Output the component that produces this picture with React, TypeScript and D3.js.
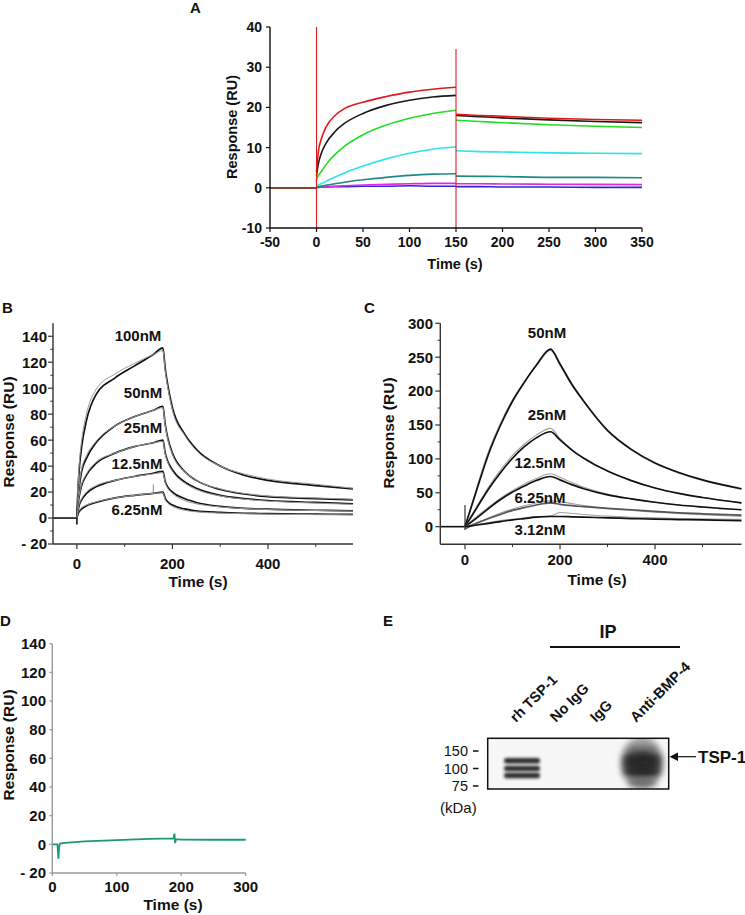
import React from "react";
import * as d3 from "d3";

const FONT = "'Liberation Sans', Arial, Helvetica, sans-serif";

// ---------------- Panel A data ----------------
const A_X_TICKS = [-50, 0, 50, 100, 150, 200, 250, 300, 350];
const A_Y_TICKS = [-10, 0, 10, 20, 30, 40];
const A_BASE_T = [-50, -25, 0];
const A_ASSOC_T = [0, 2, 5, 10, 20, 30, 50, 75, 100, 125, 150];
const A_DISS_T = [150, 175, 200, 250, 300, 350];
const A_NAMES = ["blue", "magenta", "teal", "cyan", "green", "black", "red"];
const A_COLORS = ["#2a2ad0", "#e02ae0", "#1f8a84", "#2ee3ea", "#22dd22", "#1a1a1a", "#e01a1a"];
const A_ASSOC_BLUE = [0.1, 0.1, 0.2, 0.2, 0.3, 0.3, 0.4, 0.4, 0.5, 0.4, 0.4];
const A_ASSOC_MAGENTA = [0.2, 0.2, 0.3, 0.3, 0.4, 0.5, 0.7, 0.85, 1.0, 1.1, 1.1];
const A_ASSOC_TEAL = [0.3, 0.3, 0.4, 0.6, 1.0, 1.4, 2.0, 2.6, 3.1, 3.4, 3.5];
const A_ASSOC_CYAN = [0.5, 0.7, 1.0, 1.6, 2.7, 3.7, 5.4, 7.2, 8.6, 9.6, 10.2];
const A_ASSOC_GREEN = [2.0, 3.0, 4.0, 5.7, 8.3, 10.3, 13.2, 15.6, 17.3, 18.5, 19.3];
const A_ASSOC_BLACK = [3.0, 6.0, 8.5, 11.0, 14.0, 16.0, 18.5, 20.5, 21.8, 22.6, 23.0];
const A_ASSOC_RED = [4.0, 9.0, 12.0, 15.0, 18.0, 19.7, 21.3, 22.7, 23.8, 24.5, 25.0];
const A_DISS_BLUE = [0.3, 0.3, 0.2, 0.2, 0.1, 0.1];
const A_DISS_MAGENTA = [1.0, 1.0, 0.95, 0.9, 0.85, 0.8];
const A_DISS_TEAL = [2.9, 2.85, 2.8, 2.6, 2.6, 2.5];
const A_DISS_CYAN = [9.2, 9.0, 8.9, 8.7, 8.6, 8.5];
const A_DISS_GREEN = [16.8, 16.5, 16.2, 15.7, 15.3, 15.0];
const A_DISS_BLACK = [18.0, 17.7, 17.4, 16.9, 16.5, 16.2];
const A_DISS_RED = [18.3, 18.0, 17.8, 17.3, 17.0, 16.8];
const A_INJECT_T = [0, 150];
const A_INJECT_TOP = [40, 34.5];

// ---------------- Panel B data ----------------
const B_X_MAJOR = [0, 200, 400];
const B_X_MINOR = [100, 300, 500];
const B_Y_MAJOR = [-20, 0, 20, 40, 60, 80, 100, 120, 140];
const B_Y_MINOR = [-10, 10, 30, 50, 70, 90, 110, 130];
const B_ASSOC_T = [0, 2, 5, 10, 20, 40, 80, 120, 160, 180];
const B_DISS_T = [180, 185, 190, 200, 225, 250, 300, 350, 400, 500, 578];
const B_LABELS = ["100nM", "50nM", "25nM", "12.5nM", "6.25nM"];
const B_ASSOC_100 = [0, 20, 38, 55, 75, 95, 108, 117, 126, 131];
const B_ASSOC_50 = [0, 12, 24, 36, 46, 58, 71, 78, 83, 86];
const B_ASSOC_25 = [0, 9, 17, 25, 33, 42, 50, 55, 58, 60];
const B_ASSOC_12 = [0, 5, 10, 14, 19, 24, 29, 32, 34.5, 36];
const B_ASSOC_6 = [0, 3, 5, 7, 9.5, 12, 15.5, 17.5, 19, 20];
const B_DISS_100 = [131, 115, 103, 85, 65, 53, 40, 33, 29, 25, 22.5];
const B_DISS_50 = [86, 72, 62, 50, 36, 29, 22, 18.5, 16.5, 15, 14];
const B_DISS_25 = [60, 50, 44, 37, 28, 23, 17.5, 15, 13.5, 12, 11];
const B_DISS_12 = [36, 28, 24, 20, 15, 12, 9, 7.5, 6.8, 6, 5.5];
const B_DISS_6 = [20, 15, 12.5, 10, 7, 5.5, 4.3, 3.7, 3.4, 3, 2.8];
const B_FIT_ASSOC_100 = [0, 22, 42, 60, 80, 99, 111, 119, 126, 129];
const B_FIT_ASSOC_50 = [0, 13, 26, 38, 48, 59, 71, 78, 83, 85];
const B_FIT_ASSOC_25 = [0, 10, 18, 26, 34, 43, 50, 55, 58, 59];
const B_FIT_ASSOC_12 = [0, 6, 11, 15, 20, 25, 29, 32, 34, 35];
const B_FIT_ASSOC_6 = [0, 4, 6, 8, 10, 12.5, 15.5, 17.5, 19, 19.5];
const B_FIT_DISS_100 = [129, 113, 101, 83, 64, 52, 40, 34, 30, 26, 23];
const B_FIT_DISS_50 = [85, 71, 61, 49, 36, 29, 22.5, 19, 17, 15.5, 14.5];
const B_FIT_DISS_25 = [59, 49, 43, 36, 27, 22, 17, 14.5, 13, 11.5, 10.5];
const B_FIT_DISS_12 = [35, 27, 23, 19, 13.5, 11, 8.5, 7.3, 6.5, 5.8, 5.3];
const B_FIT_DISS_6 = [19.5, 14, 11.5, 9, 6, 4.8, 3.8, 3.3, 3, 2.6, 2.4];

// ---------------- Panel C data ----------------
const C_X_MAJOR = [0, 200, 400];
const C_X_MINOR = [100, 300, 500];
const C_Y_MAJOR = [0, 50, 100, 150, 200, 250, 300];
const C_Y_MINOR = [25, 75, 125, 175, 225, 275];
const C_ASSOC_T = [0, 25, 50, 75, 100, 125, 150, 180];
const C_DISS_T = [180, 200, 225, 250, 300, 350, 400, 450, 500, 582];
const C_LABELS = ["50nM", "25nM", "12.5nM", "6.25nM", "3.12nM"];
const C_ASSOC_50 = [0, 55, 108, 150, 185, 213, 238, 262];
const C_ASSOC_25 = [0, 28, 56, 80, 101, 118, 131, 140];
const C_ASSOC_12 = [0, 13, 27, 40, 51, 60, 68, 74];
const C_ASSOC_6 = [-3, 5, 12, 18, 24, 28, 32, 35];
const C_ASSOC_3 = [0, 2.5, 5, 7.5, 10, 12, 14, 15];
const C_DISS_50 = [262, 240, 210, 185, 142, 114, 94, 80, 69, 56];
const C_DISS_25 = [140, 128, 113, 101, 82, 68, 57, 49, 43, 35];
const C_DISS_12 = [74, 69, 62, 56, 47, 41, 36, 32, 29, 25];
const C_DISS_6 = [35, 33, 31, 29.5, 27, 25, 22.5, 20.5, 19, 17];
const C_DISS_3 = [15, 15, 14.5, 14, 13, 12, 11, 10.5, 10, 9];
const C_FIT_ASSOC_50 = [0, 58, 112, 153, 187, 214, 237, 260];
const C_FIT_ASSOC_25 = [0, 30, 59, 84, 105, 122, 135, 145];
const C_FIT_ASSOC_12 = [0, 15, 29, 42, 53, 63, 71, 78];
const C_FIT_ASSOC_6 = [0, 6, 13, 20, 26, 31, 35, 38];
const C_FIT_ASSOC_3 = [0, 3, 6, 9, 11, 13, 15, 16];
const C_FIT_DISS_50 = [260, 238, 208, 184, 141, 113, 93, 79, 68, 55];
const C_FIT_DISS_25 = [145, 130, 114, 101, 82, 68, 57, 49, 43, 35];
const C_FIT_DISS_12 = [78, 73, 65, 58, 48, 41, 36, 32, 29, 25];
const C_FIT_DISS_6 = [38, 37, 34, 31, 27, 24, 21.5, 19.5, 17.5, 15];
const C_FIT_DISS_3 = [22, 21, 19.5, 18, 15.5, 14, 13, 12, 11.5, 11];

// ---------------- Panel D data ----------------
const D_X_TICKS = [0, 100, 200, 300];
const D_Y_TICKS = [-20, 0, 20, 40, 60, 80, 100, 120, 140];
const D_T = [0, 8, 9.5, 10.5, 12, 20, 50, 100, 150, 188, 189.5, 190.5, 192, 200, 250, 300];
const D_V = [0, 0, -10, -2, 0.5, 1, 2, 3, 3.8, 4.2, 7.5, 1, 3.6, 3.3, 3.2, 3.2];

// ---------------- Panel E data ----------------
const E_LANES = ["rh TSP-1", "No IgG", "IgG", "Anti-BMP-4"];
const E_MARKERS = [150, 100, 75];
const E_RH_BANDS = [122, 100, 90];
const E_ANTI_BANDS = [150, 128, 112, 96, 80];

type Pt = [number, number];
const zipPts = (t: number[], v: number[]): Pt[] => t.map((d, i) => [d, v[i]] as Pt);

const txt = (extra: any = {}) => ({ fontFamily: FONT, fontWeight: 700, fill: "#111", ...extra });

function Panel({ xs, ys, xMajor, xMinor, yMajor, yMinor, axisColor, fontSize, xLabelY, ylabelX, yFmt, xTitleY, xTitleX, yTitleX, yTitleY, tickLen }: any) {
  const [x0, x1] = xs.range();
  const [y0, y1] = ys.range();
  return (
    <g>
      <line x1={x0} x2={x1} y1={y0} y2={y0} stroke={axisColor} strokeWidth={1.4} />
      <line x1={x0} x2={x0} y1={y0} y2={y1} stroke={axisColor} strokeWidth={1.4} />
      {yMajor.map((v: number) => (
        <g key={"ym" + v}>
          <line x1={x0 - tickLen} x2={x0} y1={ys(v)} y2={ys(v)} stroke={axisColor} strokeWidth={1.2} />
          <text x={ylabelX} y={ys(v)} dy="0.36em" textAnchor="end" {...txt({ fontSize })}>{yFmt(v)}</text>
        </g>
      ))}
      {(yMinor || []).map((v: number) => (
        <line key={"yn" + v} x1={x0 - tickLen * 0.55} x2={x0} y1={ys(v)} y2={ys(v)} stroke={axisColor} strokeWidth={1} />
      ))}
      {xMajor.map((v: number) => (
        <g key={"xm" + v}>
          <line x1={xs(v)} x2={xs(v)} y1={y0} y2={y0 + tickLen} stroke={axisColor} strokeWidth={1.2} />
          <text x={xs(v)} y={xLabelY} textAnchor="middle" {...txt({ fontSize })}>{v}</text>
        </g>
      ))}
      {(xMinor || []).map((v: number) => (
        <line key={"xn" + v} x1={xs(v)} x2={xs(v)} y1={y0} y2={y0 + tickLen * 0.55} stroke={axisColor} strokeWidth={1} />
      ))}
      <text x={xTitleX} y={xTitleY} textAnchor="middle" {...txt({ fontSize: fontSize + 0.5 })}>Time (s)</text>
      <text transform={`translate(${yTitleX},${yTitleY}) rotate(-90)`} textAnchor="middle" dy="0.36em" {...txt({ fontSize: fontSize + 0.5 })}>Response (RU)</text>
    </g>
  );
}

export default function App() {
  // ---- A ----
  const xA = d3.scaleLinear().domain([-50, 350]).range([270, 642]);
  const yA = d3.scaleLinear().domain([-10, 40]).range([228, 27]);
  const lineA = d3.line<Pt>().x((d) => xA(d[0])).y((d) => yA(d[1])).curve(d3.curveMonotoneX);
  const aAssoc = [A_ASSOC_BLUE, A_ASSOC_MAGENTA, A_ASSOC_TEAL, A_ASSOC_CYAN, A_ASSOC_GREEN, A_ASSOC_BLACK, A_ASSOC_RED];
  const aDiss = [A_DISS_BLUE, A_DISS_MAGENTA, A_DISS_TEAL, A_DISS_CYAN, A_DISS_GREEN, A_DISS_BLACK, A_DISS_RED];

  // ---- B ----
  const xB = d3.scaleLinear().domain([-50, 578]).range([53, 353]);
  const yB = d3.scaleLinear().domain([-20, 150]).range([544, 323.3]);
  const lineB = d3.line<Pt>().x((d) => xB(d[0])).y((d) => yB(d[1])).curve(d3.curveMonotoneX);
  const bA = [B_ASSOC_100, B_ASSOC_50, B_ASSOC_25, B_ASSOC_12, B_ASSOC_6];
  const bD = [B_DISS_100, B_DISS_50, B_DISS_25, B_DISS_12, B_DISS_6];
  const bFA = [B_FIT_ASSOC_100, B_FIT_ASSOC_50, B_FIT_ASSOC_25, B_FIT_ASSOC_12, B_FIT_ASSOC_6];
  const bFD = [B_FIT_DISS_100, B_FIT_DISS_50, B_FIT_DISS_25, B_FIT_DISS_12, B_FIT_DISS_6];
  const bLabelPos: [number, number][] = [[138, 340.5], [143, 398], [143, 433], [137, 469], [137, 515]];

  // ---- C ----
  const xC = d3.scaleLinear().domain([-52, 582]).range([440.3, 741.5]);
  const yC = d3.scaleLinear().domain([-26, 300]).range([544.3, 323.3]);
  const lineC = d3.line<Pt>().x((d) => xC(d[0])).y((d) => yC(d[1])).curve(d3.curveMonotoneX);
  const cA = [C_ASSOC_50, C_ASSOC_25, C_ASSOC_12, C_ASSOC_6, C_ASSOC_3];
  const cD = [C_DISS_50, C_DISS_25, C_DISS_12, C_DISS_6, C_DISS_3];
  const cFA = [C_FIT_ASSOC_50, C_FIT_ASSOC_25, C_FIT_ASSOC_12, C_FIT_ASSOC_6, C_FIT_ASSOC_3];
  const cFD = [C_FIT_DISS_50, C_FIT_DISS_25, C_FIT_DISS_12, C_FIT_DISS_6, C_FIT_DISS_3];
  const cLabelPos: [number, number][] = [[547, 338], [547, 420], [540, 468], [540, 503], [540, 535]];
  const cColors = ["#111", "#111", "#111", "#555", "#111"];

  // ---- D ----
  const xD = d3.scaleLinear().domain([0, 300]).range([52.3, 245.7]);
  const yD = d3.scaleLinear().domain([-20, 140]).range([873, 643.7]);
  const lineD = d3.line<Pt>().x((d) => xD(d[0])).y((d) => yD(d[1])).curve(d3.curveLinear);

  // ---- E ----
  const xE = d3.scalePoint<string>().domain(E_LANES).range([522, 642]);
  const yE = d3.scaleLinear().domain([75, 100, 150]).range([786, 768.5, 751]);

  const fmtDash = (v: number) => (v < 0 ? "- " + Math.abs(v) : String(v));

  return (
    <svg width={745} height={915} style={{ position: "absolute", left: 0, top: 0, background: "#fff" }}>
      <defs>
        <filter id="blur1" x="-50%" y="-100%" width="200%" height="300%">
          <feGaussianBlur stdDeviation="1.6" />
        </filter>
        <filter id="blur2" x="-50%" y="-50%" width="200%" height="200%">
          <feGaussianBlur stdDeviation="3" />
        </filter>
        <clipPath id="blotClip">
          <rect x={487.7} y={738.3} width={181} height={50.7} />
        </clipPath>
      </defs>

      {/* Panel letters */}
      <text x={190} y={13} {...txt({ fontSize: 15 })}>A</text>
      <text x={2} y={313} {...txt({ fontSize: 15 })}>B</text>
      <text x={364} y={313} {...txt({ fontSize: 15 })}>C</text>
      <text x={0} y={626} {...txt({ fontSize: 15 })}>D</text>
      <text x={383} y={626} {...txt({ fontSize: 15 })}>E</text>

      {/* ===== Panel A ===== */}
      <g>
        {aAssoc.map((vals, i) => (
          <g key={A_NAMES[i]}>
            <path d={lineA(zipPts(A_BASE_T, A_BASE_T.map(() => 0))) || ""} fill="none" stroke={A_COLORS[i]} strokeWidth={1.6} />
            <path d={lineA(zipPts(A_ASSOC_T, vals)) || ""} fill="none" stroke={A_COLORS[i]} strokeWidth={1.6} />
            <path d={lineA(zipPts(A_DISS_T, aDiss[i])) || ""} fill="none" stroke={A_COLORS[i]} strokeWidth={1.6} />
          </g>
        ))}
        {A_INJECT_T.map((t, i) => (
          <line key={"inj" + t} x1={xA(t)} x2={xA(t)} y1={yA(A_INJECT_TOP[i])} y2={yA(-10)} stroke="#e01a1a" strokeWidth={1.1} />
        ))}
        <Panel xs={xA} ys={yA} xMajor={A_X_TICKS} yMajor={A_Y_TICKS} axisColor="#111" fontSize={14}
          xLabelY={246.5} ylabelX={262} yFmt={(v: number) => String(v)} xTitleX={455} xTitleY={268.5}
          yTitleX={232} yTitleY={127} tickLen={4} />
      </g>

      {/* ===== Panel B ===== */}
      <g>
        <path d={`M${xB(-50)},${yB(0)}L${xB(0)},${yB(0)}`} stroke="#111" strokeWidth={1.6} fill="none" />
        <line x1={xB(0)} x2={xB(0)} y1={yB(0)} y2={yB(-5)} stroke="#111" strokeWidth={1.6} />
        {bA.map((vals, i) => (
          <g key={"b" + i}>
            <path d={lineB(zipPts(B_ASSOC_T, vals).concat(zipPts(B_DISS_T.slice(1), bD[i].slice(1)))) || ""} fill="none" stroke="#111" strokeWidth={1.7} />
            <path d={lineB(zipPts(B_ASSOC_T, bFA[i]).concat(zipPts(B_DISS_T.slice(1), bFD[i].slice(1)))) || ""} fill="none" stroke="#9a9a9a" strokeWidth={1} />
          </g>
        ))}
        <line x1={xB(160)} x2={xB(160)} y1={yB(19)} y2={yB(26)} stroke="#888" strokeWidth={1} />
        <Panel xs={xB} ys={yB} xMajor={B_X_MAJOR} xMinor={B_X_MINOR} yMajor={B_Y_MAJOR} yMinor={B_Y_MINOR}
          axisColor="#333" fontSize={15} xLabelY={569} ylabelX={47} yFmt={fmtDash} xTitleX={198} xTitleY={587}
          yTitleX={8} yTitleY={432} tickLen={5} />
        {B_LABELS.map((l, i) => (
          <text key={l} x={bLabelPos[i][0]} y={bLabelPos[i][1]} textAnchor="middle" {...txt({ fontSize: 15 })}>{l}</text>
        ))}
      </g>

      {/* ===== Panel C ===== */}
      <g>
        <path d={`M${xC(-52)},${yC(0)}L${xC(0)},${yC(0)}`} stroke="#111" strokeWidth={1.6} fill="none" />
        <line x1={xC(0)} x2={xC(0)} y1={yC(-5)} y2={yC(32)} stroke="#333" strokeWidth={1.2} />
        {cA.map((vals, i) => (
          <g key={"c" + i}>
            <path d={lineC(zipPts(C_ASSOC_T, cFA[i]).concat(zipPts(C_DISS_T.slice(1), cFD[i].slice(1)))) || ""} fill="none" stroke="#a0a0a0" strokeWidth={1.1} />
            <path d={lineC(zipPts(C_ASSOC_T, vals).concat(zipPts(C_DISS_T.slice(1), cD[i].slice(1)))) || ""} fill="none" stroke={cColors[i]} strokeWidth={1.7} />
          </g>
        ))}
        <Panel xs={xC} ys={yC} xMajor={C_X_MAJOR} xMinor={C_X_MINOR} yMajor={C_Y_MAJOR} yMinor={C_Y_MINOR}
          axisColor="#333" fontSize={15} xLabelY={565} ylabelX={433} yFmt={(v: number) => String(v)} xTitleX={597} xTitleY={585}
          yTitleX={388} yTitleY={433} tickLen={5} />
        {C_LABELS.map((l, i) => (
          <text key={l} x={cLabelPos[i][0]} y={cLabelPos[i][1]} textAnchor="middle" {...txt({ fontSize: 15 })}>{l}</text>
        ))}
      </g>

      {/* ===== Panel D ===== */}
      <g>
        <path d={lineD(zipPts(D_T, D_V)) || ""} fill="none" stroke="#1a9a72" strokeWidth={1.8} />
        <Panel xs={xD} ys={yD} xMajor={D_X_TICKS} yMajor={D_Y_TICKS}
          axisColor="#999" fontSize={15} xLabelY={892} ylabelX={46} yFmt={fmtDash} xTitleX={173} xTitleY={910}
          yTitleX={8} yTitleY={745} tickLen={3} />
      </g>

      {/* ===== Panel E ===== */}
      <g>
        <text x={608} y={638} textAnchor="middle" {...txt({ fontSize: 18 })}>IP</text>
        <line x1={550} x2={680} y1={647} y2={647} stroke="#111" strokeWidth={2} />
        {E_LANES.map((l) => (
          <text key={l} transform={`translate(${(xE(l) || 0) - 6},${723}) rotate(-45)`} {...txt({ fontSize: 14.5 })}>{l}</text>
        ))}
        <rect x={487.7} y={738.3} width={181} height={50.7} fill="#f7f7f7" />
        <g clipPath="url(#blotClip)">
          {E_RH_BANDS.map((k) => (
            <rect key={"rh" + k} x={(xE("rh TSP-1") || 0) - 18} y={yE(k) - 2.8} width={36} height={5.6} rx={2.5} fill="#2a2a2a" filter="url(#blur1)" />
          ))}
          <ellipse cx={xE("Anti-BMP-4") || 0} cy={yE(117)} rx={21} ry={26} fill="#9a9a9a" filter="url(#blur2)" />
          {E_ANTI_BANDS.map((k, i) => (
            <ellipse key={"an" + k} cx={xE("Anti-BMP-4") || 0} cy={yE(k)} rx={i === 0 || i === 4 ? 15 : 19} ry={i === 0 || i === 4 ? 4 : 6.5} fill={i === 0 || i === 4 ? "#666" : "#262626"} filter="url(#blur2)" />
          ))}
        </g>
        <rect x={487.7} y={738.3} width={181} height={50.7} fill="none" stroke="#111" strokeWidth={1.5} />
        {E_MARKERS.map((m) => (
          <g key={"mk" + m}>
            <line x1={473} x2={478.5} y1={yE(m)} y2={yE(m)} stroke="#111" strokeWidth={1.5} />
            <text x={468} y={yE(m)} dy="0.36em" textAnchor="end" fontFamily={FONT} fontSize={14.5} fill="#111">{m}</text>
          </g>
        ))}
        <text x={440} y={813} fontFamily={FONT} fontSize={15} fill="#111">(kDa)</text>
        <line x1={675} x2={696} y1={756.7} y2={756.7} stroke="#111" strokeWidth={1.2} />
        <path d="M669.5,756.7 L678,752.5 L678,760.9 Z" fill="#111" />
        <text x={698} y={763} {...txt({ fontSize: 17 })}>TSP-1</text>
      </g>
    </svg>
  );
}
